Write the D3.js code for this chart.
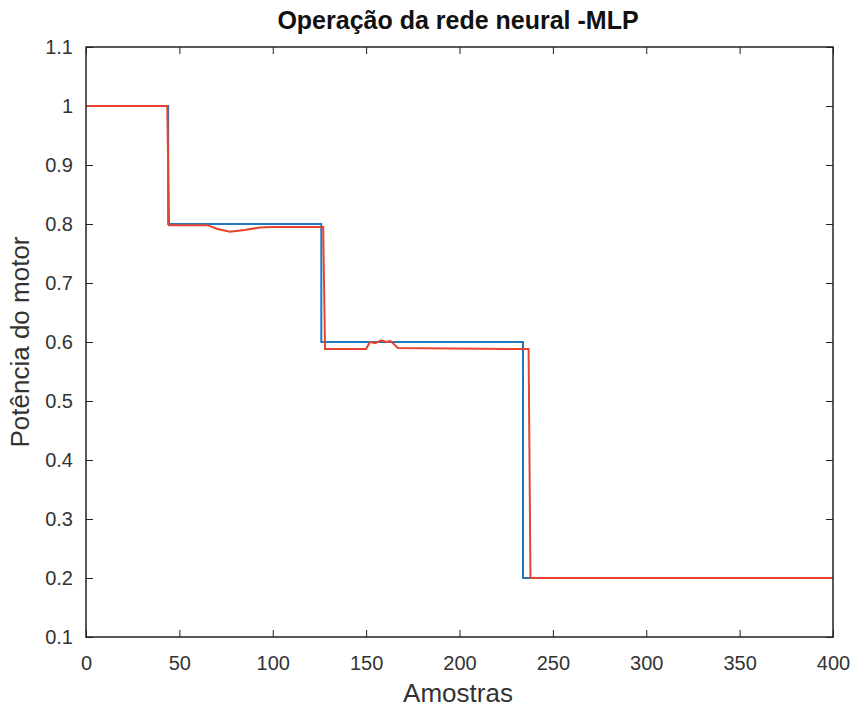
<!DOCTYPE html>
<html>
<head>
<meta charset="utf-8">
<script src="https://cdn.jsdelivr.net/npm/d3@7"></script>
<style>
  body { margin: 0; background: #fff; }
  text { font-family: "Liberation Sans", Arial, sans-serif; }
</style>
</head>
<body>
<div id="chart"></div>
<script>
// data
const xTicks = [0, 50, 100, 150, 200, 250, 300, 350, 400];
const yTicks = [0.1, 0.2, 0.3, 0.4, 0.5, 0.6, 0.7, 0.8, 0.9, 1, 1.1];

// desired power (blue)
const alvoX = [0, 44, 44, 126, 126, 234, 234, 400];
const alvoY = [1, 1, 0.8, 0.8, 0.6, 0.6, 0.2, 0.2];

// MLP output (red)
const mlpX = [0, 43.5, 44.5, 65, 70, 77, 85, 93, 100, 127, 128, 150, 152, 155, 158, 161, 163, 167, 237, 238, 400];
const mlpY = [1, 1, 0.798, 0.798, 0.792, 0.787, 0.79, 0.794, 0.795, 0.795, 0.588, 0.588, 0.6, 0.598, 0.603, 0.6, 0.602, 0.59, 0.588, 0.2, 0.2];

const width = 854, height = 708;
const margin = {left: 86, right: 21, top: 47, bottom: 71};

const svg = d3.select("#chart").append("svg")
  .attr("width", width)
  .attr("height", height);

const x = d3.scaleLinear().domain([0, 400]).range([margin.left, width - margin.right]);
const y = d3.scaleLinear().domain([0.1, 1.1]).range([height - margin.bottom, margin.top]);

const tickLen = 7;

//axes, matlab style ticks inside
svg.append("g")
  .attr("transform", "translate(0," + y(0.1) + ")")
  .call(d3.axisBottom(x).tickValues(xTicks).tickSizeInner(-tickLen).tickSizeOuter(0).tickPadding(19).tickFormat(d3.format("d")))
  .call(g => g.select(".domain").remove())
  .selectAll("text").style("font-size", "20px").attr("fill", "#333");

svg.append("g")
  .attr("transform", "translate(0," + y(1.1) + ")")
  .call(d3.axisTop(x).tickValues(xTicks).tickSizeInner(-tickLen).tickSizeOuter(0).tickFormat(""))
  .call(g => g.select(".domain").remove());

svg.append("g")
  .attr("transform", "translate(" + x(0) + ",0)")
  .call(d3.axisLeft(y).tickValues(yTicks).tickSizeInner(-tickLen).tickSizeOuter(0).tickPadding(13).tickFormat(d => d3.format("")(+d.toFixed(1))))
  .call(g => g.select(".domain").remove())
  .selectAll("text").style("font-size", "20px").attr("fill", "#333");

svg.append("g")
  .attr("transform", "translate(" + x(400) + ",0)")
  .call(d3.axisRight(y).tickValues(yTicks).tickSizeInner(-tickLen).tickSizeOuter(0).tickFormat(""))
  .call(g => g.select(".domain").remove());

svg.selectAll(".tick line").attr("stroke", "#222");

// the lines
const line = d3.line().x(d => x(d[0])).y(d => y(d[1]));

svg.append("path")
  .datum(alvoX.map((v, i) => [v, alvoY[i]]))
  .attr("d", line)
  .attr("fill", "none")
  .attr("stroke", "#1f78c0")
  .attr("stroke-width", 2);

svg.append("path")
  .datum(mlpX.map((v, i) => [v, mlpY[i]]))
  .attr("d", line)
  .attr("fill", "none")
  .attr("stroke", "#e8432e")
  .attr("stroke-width", 2);

// box
svg.append("rect")
  .attr("x", x(0))
  .attr("y", y(1.1))
  .attr("width", x(400) - x(0))
  .attr("height", y(0.1) - y(1.1))
  .attr("fill", "none")
  .attr("stroke", "#222")
  .attr("stroke-width", 1.5);

// labels
svg.append("text")
  .text("Operação da rede neural -MLP")
  .attr("x", 458)
  .attr("y", 29)
  .attr("text-anchor", "middle")
  .style("font-size", "25px")
  .style("font-weight", "bold")
  .attr("fill", "#111");

svg.append("text")
  .text("Amostras")
  .attr("x", 458)
  .attr("y", 702)
  .attr("text-anchor", "middle")
  .style("font-size", "26px")
  .attr("fill", "#333");

svg.append("text")
  .text("Potência do motor")
  .attr("transform", "translate(29," + ((y(0.1) + y(1.1)) / 2) + ") rotate(-90)")
  .attr("text-anchor", "middle")
  .style("font-size", "26px")
  .attr("fill", "#333");
</script>
</body>
</html>
